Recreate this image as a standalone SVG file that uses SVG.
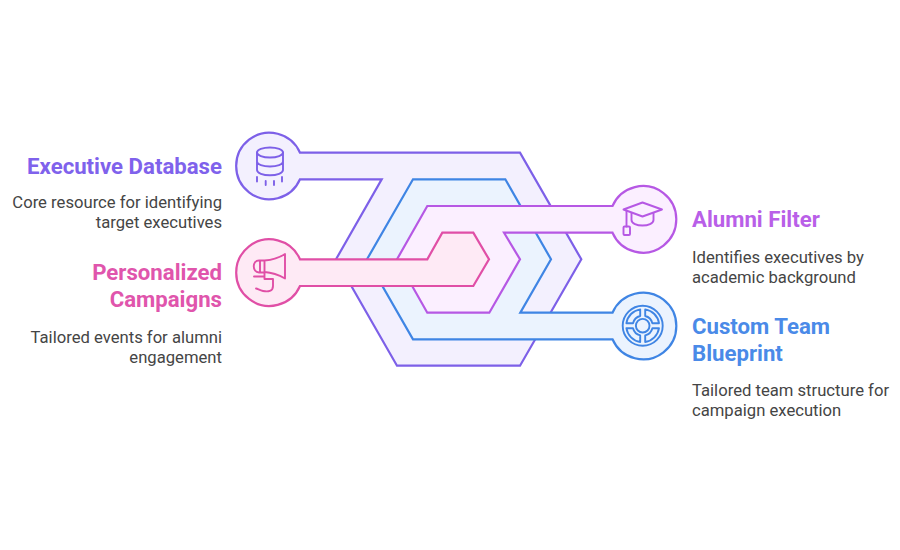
<svg xmlns="http://www.w3.org/2000/svg" width="900" height="550" viewBox="0 0 900 550">
<style>
text{font-family:Roboto,"Liberation Sans",sans-serif}
.t{font-size:22.2px;font-weight:700}
.d{font-size:16.65px;fill:#454545}
.e{text-anchor:end}
.b{stroke-width:2.2;stroke-linejoin:miter}
.i{fill:none;stroke-width:1.9;stroke-linecap:round;stroke-linejoin:round}
.pu{fill:#f3f0fe;stroke:#7d60e8}
.bl{fill:#ebf3fe;stroke:#3f85e4}
.ma{fill:#fbefff;stroke:#b658e4}
.pk{fill:#feeaf5;stroke:#e04fa6}
</style>
<rect width="900" height="550" fill="#fff"/>
<g id="connectors">
<path class="b pu" d="M300 152.7H520L581.3 259.3L520 365.7H397L336 259.3L381.7 179.3H300A33.3 33.3 0 1 1 300 152.7Z"/>
<path class="b bl" d="M612.5 339.3H413L367 259.3L413 179.3H505.3L551 259.3L520.3 312.7H612.5A33.3 33.3 0 1 1 612.5 339.3Z"/>
<path class="b ma" d="M612.5 206H427.3L397 259.3L427.3 312.7H489.3L520 259.3L504 232.7H612.5A33.3 33.3 0 1 0 612.5 206Z"/>
<path class="b pk" d="M300 259.3H427.3L442.3 232.7H473.3L489 259.3L473.3 286H300A33.3 33.3 0 1 1 300 259.3Z"/>
</g>
<g id="executive-database">
<g class="i" stroke="#7d60e8">
<ellipse cx="270" cy="152.500" rx="13" ry="5"/>
<path d="M257 152.500V170C257 173 263 175.300 270 175.300S283 173 283 170V152.500M257 161.500C257 164.500 263 166.500 270 166.500S283 164.500 283 161.500M257 177V181.500M265.700 181V185M274 181V185M282 177V181.500"/>
</g>
<text class="t e" x="222" y="173.500" fill="#7f62ec">Executive Database</text>
<text class="d e" x="222" y="208">Core resource for identifying</text>
<text class="d e" x="222" y="228">target executives</text>
</g>
<g id="personalized-campaigns">
<g class="i" stroke="#e04fa6">
<path d="M264.500 260.500C272 260 279 258 285 254V278.500C279 275 272 272.500 264.500 272ZM264.500 260.500H259C252 260.500 252 272 259 272.500H264.500M260 260.500V272.500M254 276.500H264.500M264.500 272V279H273V286C273 291.500 268 292 263 291C260 290.500 258 289 256 288.500"/>
</g>
<text class="t e" x="222" y="280" fill="#e055ac">Personalized</text>
<text class="t e" x="222" y="307" fill="#e055ac">Campaigns</text>
<text class="d e" x="222" y="342.500">Tailored events for alumni</text>
<text class="d e" x="222" y="362.500">engagement</text>
</g>
<g id="alumni-filter">
<g class="i" stroke="#b658e4">
<path d="M623.500 209.500L642.500 202.500L662 209.500L642.500 216.500Z"/>
<path d="M631.500 213V220C631.500 223.500 637 225.500 642.500 225.500S653.500 223.500 653.500 220V213M626.500 210.500V226.500"/>
<rect x="623.500" y="226.500" width="6.500" height="8.500" rx="1"/>
</g>
<text class="t" x="692" y="226.500" fill="#b95fe8">Alumni Filter</text>
<text class="d" x="692" y="263">Identifies executives by</text>
<text class="d" x="692" y="283">academic background</text>
</g>
<g id="custom-team-blueprint">
<g class="i" stroke="#3f85e4" transform="translate(642.700 325.700)">
<circle r="20"/>
<circle r="6.800"/>
<path d="M2.500-16.300A16.500 16.500 0 0 1 16.300-2.500L9.680-2.500A10 10 0 0 0 2.500-9.680Z"/>
<path d="M2.500-16.300A16.500 16.500 0 0 1 16.300-2.500L9.680-2.500A10 10 0 0 0 2.500-9.680Z" transform="rotate(90)"/>
<path d="M2.500-16.300A16.500 16.500 0 0 1 16.300-2.500L9.680-2.500A10 10 0 0 0 2.500-9.680Z" transform="rotate(180)"/>
<path d="M2.500-16.300A16.500 16.500 0 0 1 16.300-2.500L9.680-2.500A10 10 0 0 0 2.500-9.680Z" transform="rotate(270)"/>
</g>
<text class="t" x="692" y="333.500" fill="#4a8ae8">Custom Team</text>
<text class="t" x="692" y="360.500" fill="#4a8ae8">Blueprint</text>
<text class="d" x="692" y="396">Tailored team structure for</text>
<text class="d" x="692" y="416">campaign execution</text>
</g>
</svg>
